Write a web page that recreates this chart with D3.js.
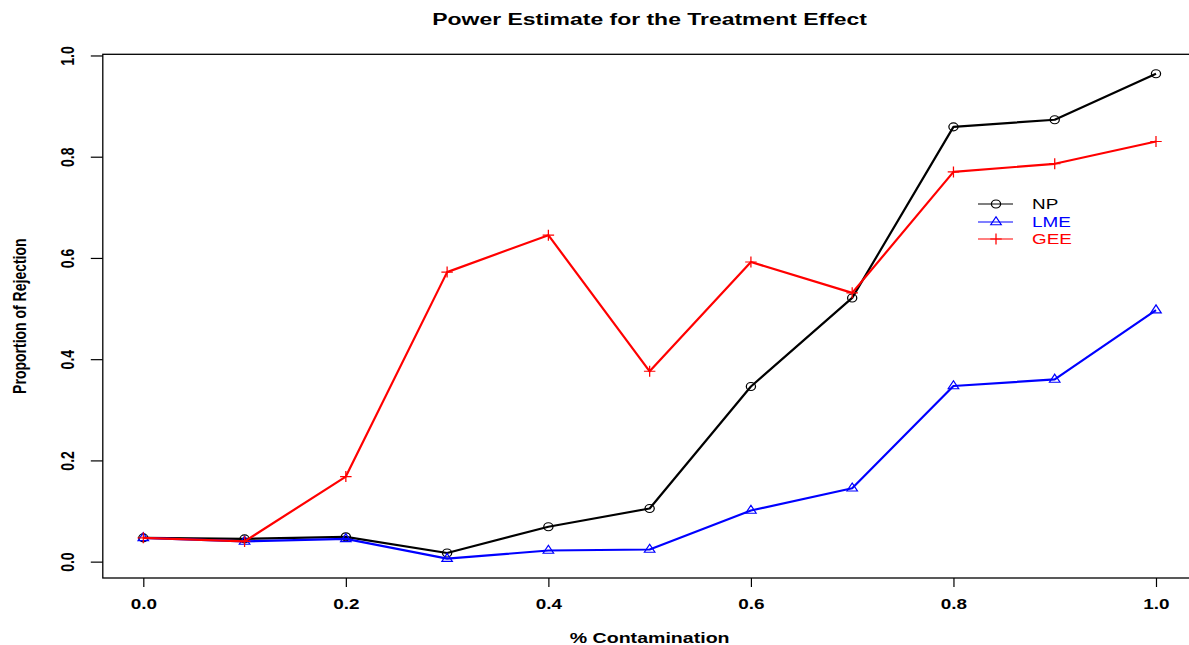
<!DOCTYPE html>
<html>
<head>
<meta charset="utf-8">
<script src="https://cdn.jsdelivr.net/npm/d3@7"></script>
<style>
  html, body { margin: 0; padding: 0; background: #fff; }
  svg { display: block; font-family: 'Liberation Sans', Arial, sans-serif; }
</style>
</head>
<body>
<svg id="chart" width="1189" height="645"></svg>
<script>
// values
const contamination = [0, 0.1, 0.2, 0.3, 0.4, 0.5, 0.6, 0.7, 0.8, 0.9, 1.0]
const npValues = [0.047, 0.045, 0.049, 0.017, 0.069, 0.105, 0.346, 0.521, 0.859, 0.873, 0.964]
const lmeValues = [0.047, 0.040, 0.045, 0.006, 0.022, 0.024, 0.101, 0.145, 0.347, 0.360, 0.497]
const geeValues = [0.047, 0.040, 0.168, 0.572, 0.645, 0.376, 0.592, 0.531, 0.770, 0.786, 0.830]
const xTicks = [0, 0.2, 0.4, 0.6, 0.8, 1.0]
const yTicks = [0, 0.2, 0.4, 0.6, 0.8, 1.0]
const seriesNames = ['NP', 'LME', 'GEE']

const MARGINS = { top: 54.3, bottom: 578, left: 102.8, right: 1196.5 }
const SX = 1.35 // the picture is stretched sideways, text and symbols too

const series = [
  { name: seriesNames[0], values: npValues, color: '#000000', pch: 'circle' },
  { name: seriesNames[1], values: lmeValues, color: '#0000ff', pch: 'triangle' },
  { name: seriesNames[2], values: geeValues, color: '#ff0000', pch: 'plus' }
]

// R style: 4% padding around the data range
const pad = ([a, b]) => [a - (b - a) * 0.04, b + (b - a) * 0.04]
const allY = [].concat(npValues, lmeValues, geeValues)

const xScale = d3.scaleLinear().domain(pad(d3.extent(contamination))).range([MARGINS.left, MARGINS.right])
const yScale = d3.scaleLinear().domain(pad(d3.extent(allY))).range([MARGINS.bottom, MARGINS.top])

const vis = d3.select('#chart')

// plot box
vis.append('rect')
  .attr('x', MARGINS.left)
  .attr('y', MARGINS.top)
  .attr('width', MARGINS.right - MARGINS.left)
  .attr('height', MARGINS.bottom - MARGINS.top)
  .attr('fill', 'none')
  .attr('stroke', '#000')
  .attr('stroke-width', 1.3)

// x axis
const xAxis = d3.axisBottom(xScale).tickValues(xTicks).tickSize(9).tickFormat(d3.format('.1f'))
const gx = vis.append('g')
  .attr('transform', `translate(0, ${MARGINS.bottom})`)
  .call(xAxis)
gx.select('.domain').remove()
gx.selectAll('.tick line').attr('stroke', '#000').attr('stroke-width', 1.2)
gx.selectAll('.tick text').remove()
gx.selectAll('.tick').append('text')
  .attr('transform', `translate(0, 31) scale(${SX}, 1)`)
  .attr('text-anchor', 'middle')
  .attr('font-size', 14)
  .attr('font-weight', 'bold')
  .attr('fill', '#000')
  .text(d => d3.format('.1f')(d))

// y axis
const yAxis = d3.axisLeft(yScale).tickValues(yTicks).tickSize(12).tickFormat(d3.format('.1f'))
const gy = vis.append('g')
  .attr('transform', `translate(${MARGINS.left}, 0)`)
  .call(yAxis)
gy.select('.domain').remove()
gy.selectAll('.tick line').attr('stroke', '#000').attr('stroke-width', 1.2)
gy.selectAll('.tick text').remove()
gy.selectAll('.tick').append('text')
  .attr('transform', `translate(-29, 0) scale(${SX}, 1) rotate(-90)`)
  .attr('text-anchor', 'middle')
  .attr('font-size', 14)
  .attr('font-weight', 'bold')
  .attr('fill', '#000')
  .text(d => d3.format('.1f')(d))

// titles
const midX = (MARGINS.left + MARGINS.right) / 2
vis.append('text')
  .attr('transform', `translate(${midX}, 25) scale(${SX}, 1)`)
  .attr('text-anchor', 'middle')
  .attr('font-size', 17)
  .attr('font-weight', 'bold')
  .text('Power Estimate for the Treatment Effect')

vis.append('text')
  .attr('transform', `translate(${midX}, 643) scale(${SX}, 1)`)
  .attr('text-anchor', 'middle')
  .attr('font-size', 14.5)
  .attr('font-weight', 'bold')
  .text('% Contamination')

vis.append('text')
  .attr('transform', `translate(26, ${(MARGINS.top + MARGINS.bottom) / 2}) scale(${SX}, 1) rotate(-90)`)
  .attr('text-anchor', 'middle')
  .attr('font-size', 14)
  .attr('font-weight', 'bold')
  .text('Proportion of Rejection')

// symbols, in unscaled units; the group is stretched by SX
const symbolPath = pch => {
  if (pch === 'circle') return 'M-4,0a4,4 0 1,0 8,0a4,4 0 1,0 -8,0'
  if (pch === 'triangle') return 'M0,-5.2L4.6,2.8L-4.6,2.8Z'
  return 'M-5,0L5,0M0,-5.5L0,5.5'
}

const lineGen = d3.line()
  .x((d, i) => xScale(contamination[i]))
  .y(d => yScale(d))

series.forEach(s => {
  vis.append('path')
    .attr('d', lineGen(s.values))
    .attr('fill', 'none')
    .attr('stroke', s.color)
    .attr('stroke-width', 2.2)
    .attr('stroke-linejoin', 'round')

  vis.append('g').selectAll('path')
    .data(s.values)
    .join('path')
    .attr('transform', (d, i) => `translate(${xScale(contamination[i])}, ${yScale(d)}) scale(${SX * 0.85}, 1)`)
    .attr('d', symbolPath(s.pch))
    .attr('fill', 'none')
    .attr('stroke', s.color)
    .attr('stroke-width', 1.1)
})

// legend
const legendRows = [204, 222, 239]
const legend = vis.append('g')
series.forEach((s, i) => {
  const y = legendRows[i]
  legend.append('line')
    .attr('x1', 978).attr('x2', 1013)
    .attr('y1', y).attr('y2', y)
    .attr('stroke', s.color)
    .attr('stroke-width', 1.2)
  legend.append('path')
    .attr('transform', `translate(996, ${y}) scale(${SX * 0.85}, 1)`)
    .attr('d', symbolPath(s.pch))
    .attr('fill', 'none')
    .attr('stroke', s.color)
    .attr('stroke-width', 1.1)
  legend.append('text')
    .attr('transform', `translate(1032, ${y + 5}) scale(${SX}, 1)`)
    .attr('font-size', 14)
    .attr('fill', s.color)
    .text(s.name)
})
</script>
</body>
</html>
